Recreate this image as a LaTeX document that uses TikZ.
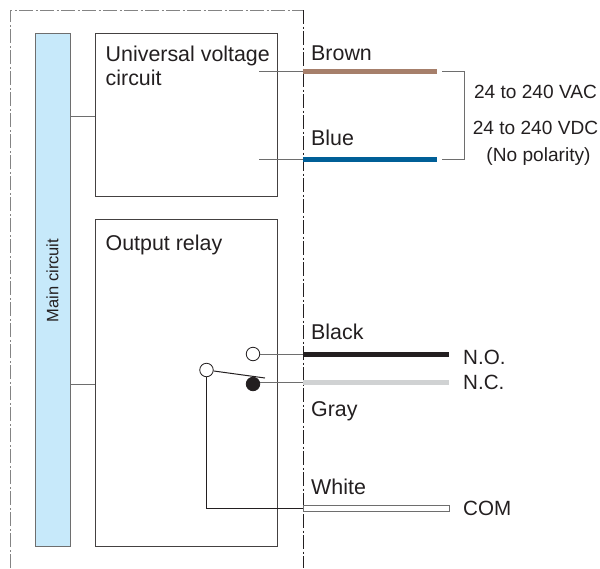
\documentclass[tikz,border=0pt]{standalone}
\usepackage{fontspec}
\setmainfont{Liberation Sans}
\definecolor{txt}{HTML}{231F20}
\definecolor{wirec}{HTML}{6E6E6E}
\definecolor{mainc}{HTML}{C7E9FA}
\definecolor{brownw}{HTML}{A67F6B}
\definecolor{bluew}{HTML}{005F97}
\definecolor{grayw}{HTML}{D0D2D3}
\tikzset{
 boxs/.style={draw=txt!85!white,line width=1pt,anchor=north west,inner sep=0pt},
 lab/.style={text=txt,font=\fontsize{21.4}{24}\selectfont,inner sep=0pt,anchor=base west},
 endlab/.style={text=txt,font=\fontsize{20.6}{24}\selectfont,inner sep=0pt,anchor=base west},
 rlab/.style={text=txt,font=\fontsize{19.1}{22}\selectfont,inner sep=0pt,anchor=base},
 stub/.style={draw=wirec,line width=1pt},
 dark/.style={draw=txt,line width=1pt},
 border/.style={line width=1pt,dash pattern=on 14pt off 2.5pt on 2pt off 2.5pt},
 term/.style={circle,draw=txt,line width=0.8pt,minimum size=13.5pt,inner sep=0pt},
 cable/.style={line width=5pt},
}
\begin{document}
\begin{tikzpicture}[x=1pt,y=-1pt]
\useasboundingbox (0,0) rectangle (600,568);
\draw[border,draw=wirec!85!white] (10,568) -- (10,10) -- (303,10);
\draw[border,draw=txt] (303,10) -- (303,568);
% boxes
\node[boxs,fill=mainc,draw=wirec,minimum width=35pt,minimum height=513pt] (main) at (35,33) {};
\node[boxs,minimum width=182pt,minimum height=163pt] (uv) at (95,33) {};
\node[boxs,minimum width=182pt,minimum height=327pt] (relay) at (95,219) {};
\node[rotate=90,text=txt,font=\fontsize{16.5}{20}\selectfont,inner sep=0pt] (mainl) at (52.5,280.5) {Main circuit};
\node[lab] (uvl1) at (105.5,61) {Universal voltage};
\node[lab] (uvl2) at (105.5,85) {circuit};
\node[lab] (rl) at (105.5,250) {Output relay};
\coordinate (a1) at (main.east |- 0,116);
\coordinate (a2) at (uv.west |- 0,116);
\coordinate (b1) at (main.east |- 0,384);
\coordinate (b2) at (relay.west |- 0,384);
\draw[stub] (a1) -- (a2);
\draw[stub] (b1) -- (b2);
% cable coordinates
\coordinate (bw0) at (303,71.5); \coordinate (bw1) at (437,71.5); \coordinate (bws) at (259,71.5);
\coordinate (lw0) at (303,159.5); \coordinate (lw1) at (437,159.5); \coordinate (lws) at (259,159.5);
\coordinate (kw0) at (303,354); \coordinate (kw1) at (449,354);
\coordinate (gw0) at (303,382.5); \coordinate (gw1) at (449,382.5);
\coordinate (ww0) at (303,508.5); \coordinate (ww1) at (449,508.5);
\draw[stub] (bws) -- (bw0);
\draw[stub] (lws) -- (lw0);
\draw[cable,draw=brownw] (bw0) -- (bw1);
\draw[cable,draw=bluew] (lw0) -- (lw1);
\draw[cable,draw=txt] (kw0) -- (kw1);
\draw[cable,draw=grayw] (gw0) -- (gw1);
\node[draw=wirec,line width=0.8pt,fill=white,anchor=west,minimum width=146pt,minimum height=6pt,inner sep=0pt] (wc) at (ww0) {};
% bracket
\coordinate (br1) at (442,71.5); \coordinate (br2) at (464,71.5);
\coordinate (br3) at (464,159.5); \coordinate (br4) at (442,159.5);
\draw[stub] (br1) -- (br2) -- (br3) -- (br4);
% relay contacts
\node[term,fill=white] (no) at (253,354) {};
\node[term,fill=txt] (nc) at (253,384) {};
\node[term,fill=white] (com) at (206.5,370) {};
\coordinate (lever) at (265,378);
\draw[dark] (com) -- (lever);
\draw[stub] (no) -- (kw0);
\draw[stub] (nc.east |- gw0) -- (gw0);
\draw[dark] (com) |- (ww0);
% labels
\node[lab] (t1) at (311,60) {Brown};
\node[lab] (t2) at (311,145) {Blue};
\node[lab] (t3) at (311,339) {Black};
\node[lab] (t4) at (311,416) {Gray};
\node[lab] (t5) at (311,494) {White};
\node[endlab] (t6) at (463,364) {N.O.};
\node[endlab] (t7) at (463,389) {N.C.};
\node[endlab] (t8) at (463,515) {COM};
\node[rlab] (v1) at (535.5,98) {24 to 240 VAC};
\node[rlab] (v2) at (535.5,134) {24 to 240 VDC};
\node[rlab] (v3) at (538.5,161) {(No polarity)};
\end{tikzpicture}
\end{document}
